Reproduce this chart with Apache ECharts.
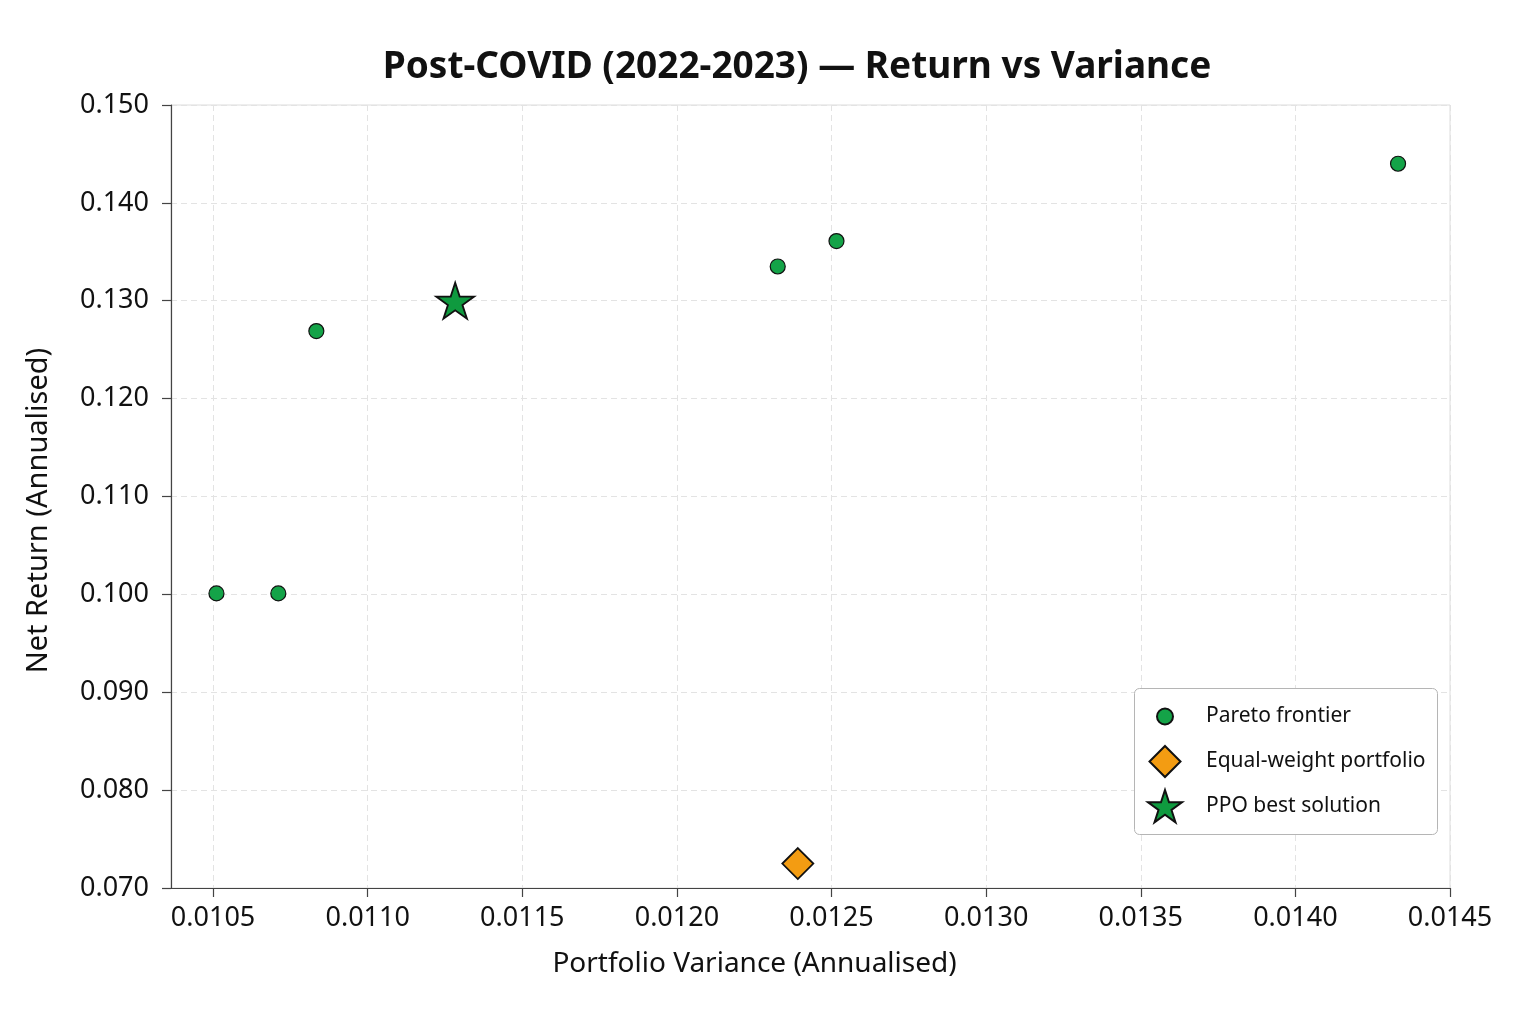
<!DOCTYPE html>
<html>
<head>
<meta charset="utf-8">
<script src="https://cdn.jsdelivr.net/npm/echarts@6/dist/echarts.min.js"></script>
<style>
  html, body { margin: 0; padding: 0; background: #fff; }
  #chart { width: 1536px; height: 1024px; }
</style>
</head>
<body>
<div id="chart"></div>
<script>
// data
var paretoVar = [0.010511, 0.010711, 0.010834, 0.012326, 0.012516, 0.014332];
var paretoRet = [0.1001, 0.1001, 0.1269, 0.1335, 0.1361, 0.1440];
var equalVar = [0.012391];
var equalRet = [0.0725];
var ppoVar = [0.011283];
var ppoRet = [0.1300];
var xTicks = [0.0105, 0.0110, 0.0115, 0.0120, 0.0125, 0.0130, 0.0135, 0.0140, 0.0145];

var FONT = "Noto Sans";
var STAR = "path://M50 0 L61.23 34.55 L97.55 34.55 L68.17 55.9 L79.39 90.45 L50 69.1 L20.61 90.45 L31.83 55.9 L2.45 34.55 L38.77 34.55 Z";

function pairs(xs, ys) {
  return xs.map(function (x, i) { return [x, ys[i]]; });
}

// one legend per entry so each icon keeps its own size; text lines up at x=1205
// (legend has a default padding of 5 on every side)
function legendItem(name, size, top) {
  var left = 1164 - size / 2 - 5;
  return {
    orient: "vertical",
    data: [name],
    left: left,
    top: top,
    itemWidth: size,
    itemHeight: size,
    z: 6,
    textStyle: {
      fontFamily: FONT, fontSize: 21, color: "#111",
      padding: [0, 0, 0, 1205 - (left + 5 + size + 5)]
    }
  };
}

var chart = echarts.init(document.getElementById("chart"), null, { renderer: "canvas" });

var option = {
  backgroundColor: "#ffffff",
  animation: false,
  title: {
    text: "Post-COVID (2022-2023) \u2014 Return vs Variance",
    left: 792,
    top: 44,
    textAlign: "center",
    textStyle: { fontFamily: FONT, fontSize: 37, fontWeight: "bold", color: "#111" }
  },
  grid: {
    left: 171, right: 86, top: 105, bottom: 136,
    show: true, borderColor: "#dcdcdc", borderWidth: 1
  },
  legend: [
    legendItem("Pareto frontier", 16, 701),
    legendItem("Equal-weight portfolio", 31, 740),
    legendItem("PPO best solution", 34, 784)
  ],
  graphic: [{
    type: "rect",
    left: 1134, top: 688,
    shape: { width: 303, height: 146, r: 5 },
    style: { fill: "#fff", stroke: "#b5b5b5", lineWidth: 1 },
    z: 3
  }],
  xAxis: {
    type: "value",
    min: 0.010364,
    max: 0.0145,
    name: "Portfolio Variance (Annualised)",
    nameLocation: "middle",
    nameGap: 62,
    nameTextStyle: { fontFamily: FONT, fontSize: 28, color: "#111", padding: [0, 112, 0, 0] },
    axisLine: { lineStyle: { color: "#444", width: 1.2 } },
    axisTick: { customValues: xTicks, length: 9, lineStyle: { color: "#444", width: 1.2 } },
    axisLabel: {
      customValues: xTicks,
      margin: 17,
      fontFamily: FONT, fontSize: 27, color: "#111",
      formatter: function (v) { return v.toFixed(4); }
    },
    splitLine: { show: true, lineStyle: { color: "#e3e3e3", type: [6, 4], width: 1 } }
  },
  yAxis: {
    type: "value",
    min: 0.07,
    max: 0.15,
    interval: 0.01,
    name: "Net Return (Annualised)",
    nameLocation: "middle",
    nameGap: 118,
    nameTextStyle: { fontFamily: FONT, fontSize: 29, color: "#111", padding: [0, 28, 0, 0] },
    axisLine: { show: true, lineStyle: { color: "#444", width: 1.2 } },
    axisTick: { show: true, length: 9, lineStyle: { color: "#444", width: 1.2 } },
    axisLabel: {
      margin: 22,
      fontFamily: FONT, fontSize: 27, color: "#111",
      formatter: function (v) { return v.toFixed(3); }
    },
    splitLine: { show: true, lineStyle: { color: "#e3e3e3", type: [6, 4], width: 1 } }
  },
  series: [
    {
      name: "Pareto frontier",
      type: "scatter",
      symbol: "circle",
      symbolSize: 15,
      data: pairs(paretoVar, paretoRet),
      itemStyle: { color: "#14a348", opacity: 1, borderColor: "#111", borderWidth: 1.2 },
      z: 3
    },
    {
      name: "Equal-weight portfolio",
      type: "scatter",
      symbol: "diamond",
      symbolSize: [31, 31],
      data: pairs(equalVar, equalRet),
      itemStyle: { color: "#f39c12", opacity: 1, borderColor: "#111", borderWidth: 1.8 },
      z: 3
    },
    {
      name: "PPO best solution",
      type: "scatter",
      symbol: STAR,
      symbolSize: [38, 36],
      data: pairs(ppoVar, ppoRet),
      itemStyle: { color: "#0f9a3f", opacity: 1, borderColor: "#111", borderWidth: 1.8 },
      z: 4
    }
  ]
};

chart.setOption(option);
</script>
</body>
</html>
